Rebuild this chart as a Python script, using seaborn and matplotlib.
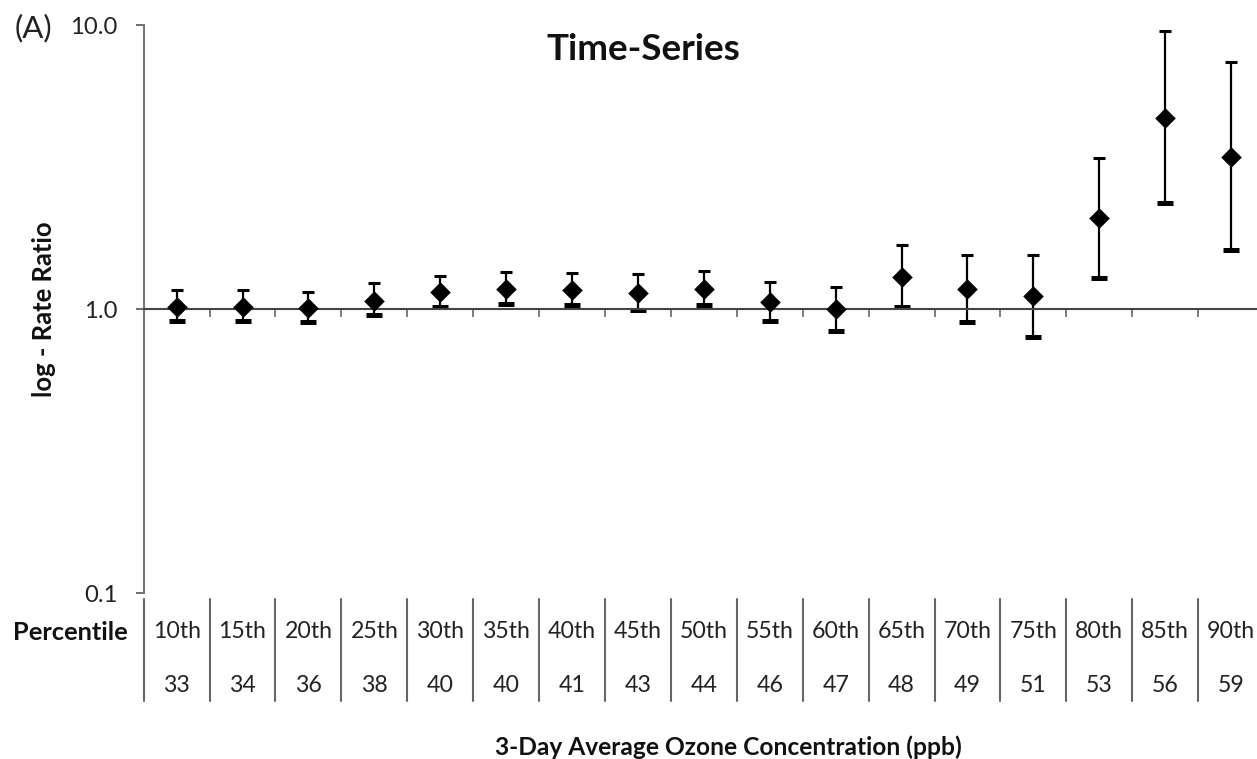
import matplotlib
matplotlib.use("Agg")
import matplotlib.pyplot as plt
import matplotlib.transforms as mtransforms
import numpy as np
import seaborn as sns

# data
percentiles = ['10th', '15th', '20th', '25th', '30th', '35th', '40th', '45th', '50th',
               '55th', '60th', '65th', '70th', '75th', '80th', '85th', '90th']
ozone_ppb = [33, 34, 36, 38, 40, 40, 41, 43, 44, 46, 47, 48, 49, 51, 53, 56, 59]
rate_ratio = [1.02, 1.02, 1.01, 1.07, 1.15, 1.18, 1.17, 1.14, 1.18,
              1.06, 1.00, 1.30, 1.18, 1.11, 2.09, 4.72, 3.44]
ci_low = [0.91, 0.91, 0.90, 0.95, 1.02, 1.04, 1.03, 0.99, 1.03,
          0.91, 0.84, 1.02, 0.90, 0.80, 1.29, 2.36, 1.61]
ci_high = [1.17, 1.17, 1.15, 1.23, 1.31, 1.35, 1.34, 1.33, 1.36,
           1.25, 1.20, 1.68, 1.55, 1.55, 3.41, 9.52, 7.43]

sns.set_theme(style='white')
plt.rcParams['font.family'] = ['Lato', 'DejaVu Sans']

fig = plt.figure(figsize=(12.57, 7.59), dpi=100)
ax = fig.add_axes([0.1143, 0.2187, 0.8913, 0.7483])
renderer = fig.canvas.get_renderer()


def size_for(s, width_px, weight='normal'):
    # font size that gives a string the pixel width seen in the reference
    t = fig.text(0, 0, s, fontsize=10, fontweight=weight)
    w = t.get_window_extent(renderer).width
    t.remove()
    return 10 * width_px / w


xpos = np.arange(len(percentiles))
rr = np.array(rate_ratio)
yerr = [rr - np.array(ci_low), np.array(ci_high) - rr]

_, caps, _ = ax.errorbar(xpos, rr, yerr=yerr, fmt='none', ecolor='black',
                         elinewidth=1.6, capsize=5.5, capthick=3, zorder=2)
# lower caps are wider and heavier than the upper ones in the original
caps[0].set_markersize(11.5)
caps[0].set_markeredgewidth(3.6)
caps[1].set_markersize(8.5)
caps[1].set_markeredgewidth(2.2)
sns.scatterplot(x=xpos, y=rr, marker='D', s=110, color='black',
                edgecolor='black', linewidth=0, ax=ax, zorder=3)

ax.set_yscale('log')
ax.set_ylim(0.1, 10)
ax.set_xlim(-0.5, len(percentiles) - 0.5)
ax.set_yticks([0.1, 1.0, 10.0])
ax.set_yticklabels(['0.1', '1.0', '10.0'], fontsize=size_for('10.0', 47),
                   color='#222222')
ax.yaxis.set_minor_locator(matplotlib.ticker.NullLocator())
ax.tick_params(axis='y', which='major', left=True, length=6, width=1.2,
               color='#555555', pad=13)

# x axis line sits at rate ratio 1.0, with ticks at category boundaries
ax.spines['bottom'].set_position(('data', 1.0))
ax.spines['bottom'].set_color('#444444')
ax.spines['bottom'].set_linewidth(1.5)
ax.spines['left'].set_color('#777777')
ax.spines['left'].set_linewidth(1.5)
ax.spines['top'].set_visible(False)
ax.spines['right'].set_visible(False)
ax.set_xticks(np.arange(len(percentiles) + 1) - 0.5)
ax.set_xticklabels([])
ax.tick_params(axis='x', bottom=True, length=6, width=1.2, color='#666666')

# table below the axis
cell_fs = size_for('10th', 48)
trans = mtransforms.blended_transform_factory(ax.transData, ax.transAxes)
for i, (p, c) in enumerate(zip(percentiles, ozone_ppb)):
    ax.text(i, -0.0792, p, transform=trans, ha='center', va='baseline',
            fontsize=cell_fs, color='#222222')
    ax.text(i, -0.1743, str(c), transform=trans, ha='center', va='baseline',
            fontsize=cell_fs, color='#222222')
for b in np.arange(len(percentiles) + 1) - 0.5:
    ax.plot([b, b], [-0.011, -0.19], transform=trans, color='#666666',
            lw=1.5, clip_on=False)
ax.text(-0.0146, -0.0827, 'Percentile', transform=ax.transAxes, ha='right',
        va='baseline', fontsize=size_for('Percentile', 115, 'bold'),
        fontweight='bold', color='#111111')

fig.text(0.035, 0.592, 'log - Rate Ratio', rotation=90, ha='center', va='center',
         fontsize=size_for('log - Rate Ratio', 175, 'bold'), fontweight='bold',
         color='#111111')
fig.text(0.5115, 0.921, 'Time-Series', ha='center', va='baseline',
         fontsize=size_for('Time-Series', 195, 'bold'), fontweight='bold',
         color='#111111')
xlab = '3-Day Average Ozone Concentration (ppb)'
fig.text(0.3938, 0.0053, xlab, ha='left', va='baseline',
         fontsize=size_for(xlab, 465, 'bold'), fontweight='bold', color='#111111')
fig.text(0.0119, 0.9625, '(A)', ha='left', va='center',
         fontsize=size_for('(A)', 38), color='#222222')

fig.savefig('out.png', dpi=100)
